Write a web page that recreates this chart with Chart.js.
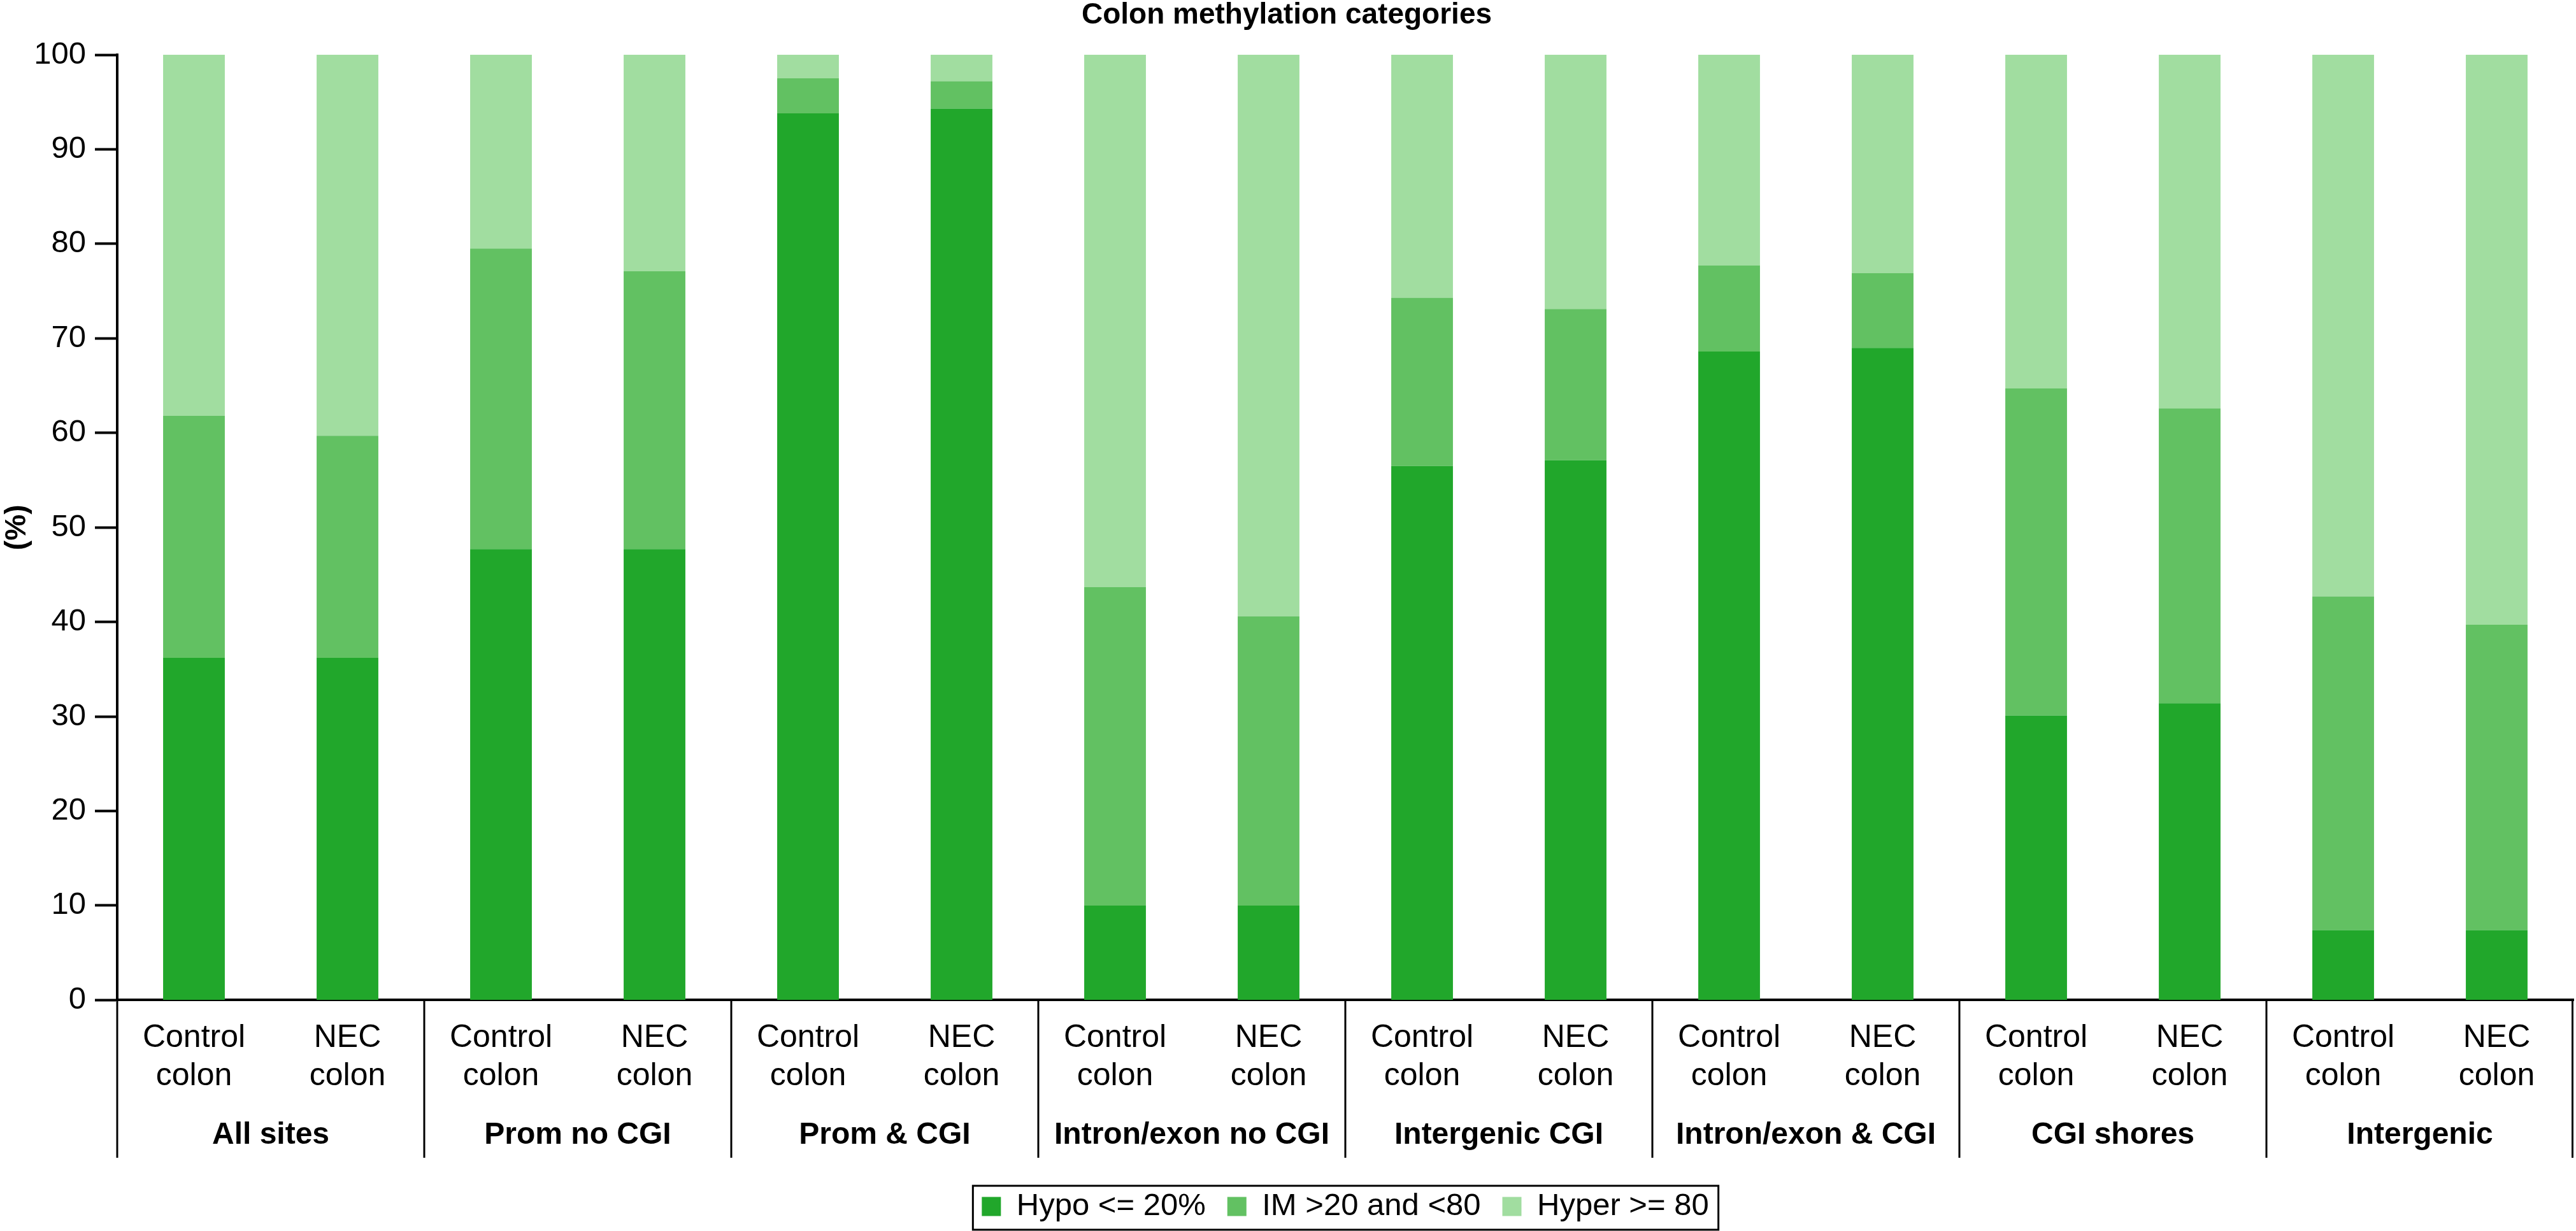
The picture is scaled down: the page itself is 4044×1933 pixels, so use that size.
<!DOCTYPE html>
<html>
<head>
<meta charset="utf-8">
<title>Colon methylation categories</title>
<script src="https://cdn.jsdelivr.net/npm/chart.js@4.4.1/dist/chart.umd.min.js"></script>
<style>
  html, body { margin: 0; padding: 0; background: #fff; }
  #wrap { width: 4044px; height: 1933px; }
</style>
</head>
<body>
<div id="wrap"><canvas id="methChart"></canvas></div>
<script>
// region groups and the two samples inside each group
const groups = ['All sites', 'Prom no CGI', 'Prom & CGI', 'Intron/exon no CGI',
                'Intergenic CGI', 'Intron/exon & CGI', 'CGI shores', 'Intergenic'];
const samples = [['Control', 'colon'], ['NEC', 'colon']];

// percentages per bar (Control, NEC for each group)
const hypo  = [36.2, 36.2, 47.7, 47.7, 93.8, 94.3, 10.0, 10.0, 56.5, 57.1, 68.6, 69.0, 30.1, 31.4, 7.4, 7.4];
const inter = [25.6, 23.5, 31.8, 29.4,  3.7,  2.9, 33.7, 30.6, 17.8, 16.0,  9.1,  7.9, 34.6, 31.2, 35.3, 32.3];
const hyper = [38.2, 40.3, 20.5, 22.9,  2.5,  2.8, 56.3, 59.4, 25.7, 26.9, 22.3, 23.1, 35.3, 37.4, 57.3, 60.3];

const yTicks = [0, 10, 20, 30, 40, 50, 60, 70, 80, 90, 100];

const barLabels = [];
groups.forEach(() => samples.forEach(s => barLabels.push(s)));

Chart.defaults.font.family = "'Liberation Sans', Arial, Helvetica, sans-serif";
Chart.defaults.color = '#000';

// vertical separators between groups + box around the legend
const groupLines = {
  id: 'groupLines',
  afterDraw(chart) {
    const ctx = chart.ctx;
    const xs = chart.scales.x;
    const x2 = chart.scales.x2;
    const area = chart.chartArea;
    const y2 = x2.bottom - 18;
    ctx.save();
    ctx.strokeStyle = '#000';
    ctx.lineWidth = 3;
    for (let k = 0; k <= groups.length; k++) {
      let px;
      if (k === 0) px = area.left;
      else if (k === groups.length) px = area.right - 1.5;
      else px = (xs.getPixelForValue(2 * k - 1) + xs.getPixelForValue(2 * k)) / 2;
      ctx.beginPath();
      ctx.moveTo(px, area.bottom);
      ctx.lineTo(px, y2);
      ctx.stroke();
    }
    const hb = chart.legend.legendHitBoxes;
    if (hb && hb.length) {
      const last = hb[hb.length - 1];
      const l = hb[0].left - 14;
      const r = last.left + last.width + 15;
      const t = hb[0].top - 8;
      const b = hb[0].top + hb[0].height + 12;
      ctx.lineWidth = 3;
      ctx.strokeRect(l, t, r - l, b - t);
    }
    ctx.restore();
  }
};

const ctx = document.getElementById('methChart').getContext('2d');
const methChart = new Chart(ctx, {
  type: 'bar',
  data: {
    labels: barLabels,
    datasets: [
      { label: 'Hypo <= 20%', data: hypo, backgroundColor: '#21a72b' },
      { label: 'IM >20 and <80', data: inter, backgroundColor: '#62c162' },
      { label: 'Hyper >= 80', data: hyper, backgroundColor: '#a1dda0' }
    ]
  },
  options: {
    responsive: true,
    maintainAspectRatio: false,
    devicePixelRatio: 1,
    animation: false,
    layout: { padding: { top: 0, right: 4, bottom: 4, left: 0 } },
    datasets: {
      bar: { categoryPercentage: 1, barPercentage: 0.402, borderWidth: 0 }
    },
    scales: {
      x: {
        stacked: true,
        weight: 0,
        grid: { display: false, drawTicks: false },
        border: { display: true, color: '#000', width: 4 },
        ticks: {
          autoSkip: false,
          maxRotation: 0,
          padding: 30,
          font: { size: 50, lineHeight: 1.2 }
        },
        afterFit(scale) { scale.height = 150; }
      },
      x2: {
        type: 'category',
        labels: groups,
        position: 'bottom',
        offset: true,
        weight: 1,
        grid: { display: false, drawTicks: false },
        border: { display: false },
        ticks: {
          autoSkip: false,
          maxRotation: 0,
          padding: 34,
          font: { size: 48, weight: 'bold', lineHeight: 1.2 }
        },
        afterFit(scale) { scale.height = 115.6; }
      },
      y: {
        stacked: true,
        min: 0,
        max: 100,
        afterBuildTicks(scale) { scale.ticks = yTicks.map(v => ({ value: v })); },
        grid: {
          display: true,
          drawOnChartArea: false,
          drawTicks: true,
          tickLength: 35,
          tickWidth: 4,
          tickColor: '#000'
        },
        border: { display: true, color: '#000', width: 4 },
        ticks: { padding: 14, font: { size: 49 } },
        title: {
          display: true,
          text: '(%)',
          padding: 0,
          font: { size: 46, weight: 'bold', lineHeight: 1.2 }
        },
        afterFit(scale) { scale.width = 184; }
      }
    },
    plugins: {
      title: {
        display: true,
        text: 'Colon methylation categories',
        color: '#000',
        padding: { top: 1, bottom: 39 },
        font: { size: 46, weight: 'bold', lineHeight: 1 }
      },
      legend: {
        display: true,
        position: 'bottom',
        fullSize: false,
        labels: {
          color: '#000',
          boxWidth: 30,
          boxHeight: 30,
          padding: 34,
          font: { size: 49 }
        }
      },
      tooltip: { enabled: true }
    }
  },
  plugins: [groupLines]
});
</script>
</body>
</html>
